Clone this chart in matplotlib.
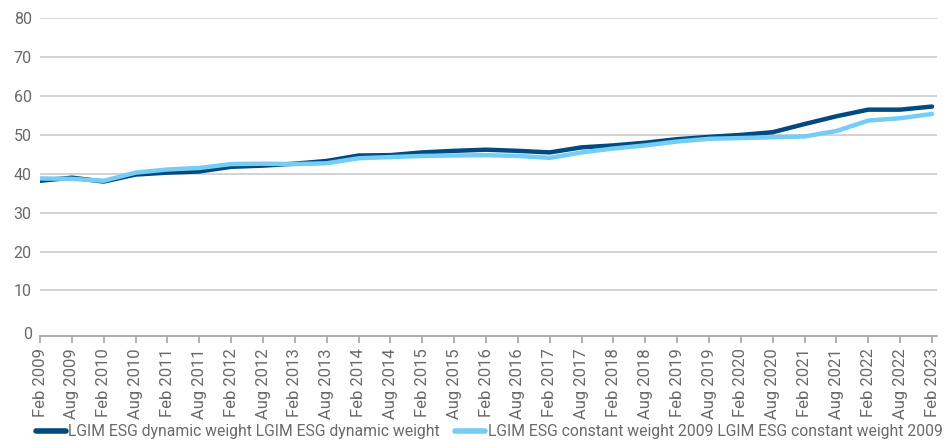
import matplotlib
matplotlib.use("Agg")
import matplotlib.pyplot as plt
from matplotlib.transforms import ScaledTranslation

plt.rcParams['font.family'] = ['Roboto', 'DejaVu Sans']

labels = ["Feb 2009", "Aug 2009", "Feb 2010", "Aug 2010", "Feb 2011", "Aug 2011",
          "Feb 2012", "Aug 2012", "Feb 2013", "Aug 2013", "Feb 2014", "Aug 2014",
          "Feb 2015", "Aug 2015", "Feb 2016", "Aug 2016", "Feb 2017", "Aug 2017",
          "Feb 2018", "Aug 2018", "Feb 2019", "Aug 2019", "Feb 2020", "Aug 2020",
          "Feb 2021", "Aug 2021", "Feb 2022", "Aug 2022", "Feb 2023"]

dynamic = [38.2, 39.0, 38.0, 39.8, 40.3, 40.6, 41.8, 42.1, 42.6, 43.3, 44.7, 44.8,
           45.5, 45.9, 46.2, 45.9, 45.5, 46.8, 47.3, 48.0, 48.9, 49.5, 50.0, 50.7,
           52.8, 54.8, 56.5, 56.5, 57.3]
constant = [38.8, 38.7, 38.2, 40.3, 41.1, 41.5, 42.5, 42.6, 42.5, 42.7, 44.0, 44.3,
            44.6, 44.7, 44.8, 44.6, 44.1, 45.5, 46.5, 47.3, 48.3, 49.0, 49.2, 49.4,
            49.6, 51.0, 53.7, 54.3, 55.4]

series_names = ["LGIM ESG dynamic weight LGIM ESG dynamic weight",
                "LGIM ESG constant weight 2009 LGIM ESG constant weight 2009"]
dark = "#004a80"
light = "#75ccf4"
grey_text = "#6a6a6a"

fig = plt.figure(figsize=(9.48, 4.40), dpi=100)
ax = fig.add_axes([0.0422, 0.2375, 0.946, 0.7209])

x = list(range(len(labels)))
ax.plot(x, dynamic, color=dark, lw=3.2, solid_capstyle='round', label=series_names[0], zorder=3)
ax.plot(x, constant, color=light, lw=3.2, solid_capstyle='round', label=series_names[1], zorder=3)

ax.set_ylim(-1.6, 80)
ax.set_xlim(0, len(labels) - 1 + 0.15)
ax.set_yticks(range(0, 81, 10))
ax.set_xticks(x)
ax.set_xticklabels(labels, rotation=90)

ax.grid(axis='y', color='#d0d0d0', lw=1.3)
ax.yaxis.get_gridlines()[0].set_visible(False)
ax.set_axisbelow(True)
for s in ['top', 'right', 'left']:
    ax.spines[s].set_visible(False)
ax.spines['bottom'].set_color('#a6a6a6')
ax.spines['bottom'].set_linewidth(1.3)
ax.tick_params(axis='y', length=0, labelsize=11.5, labelcolor=grey_text, pad=6)
ax.tick_params(axis='x', length=5, color='#a6a6a6', width=1.2, labelsize=12,
               labelcolor=grey_text, pad=4)
# "0" label sits on the axis line
zero_lab = ax.get_yticklabels()[0]
zero_lab.set_transform(zero_lab.get_transform() + ScaledTranslation(0, -3 / 72, fig.dpi_scale_trans))

leg = fig.legend(loc='lower center', bbox_to_anchor=(0.516, -0.03), ncol=2, frameon=False,
                 handlelength=1.9, handletextpad=0.15, columnspacing=1.0,
                 prop={'size': 11.3})
for t in leg.get_texts():
    t.set_color(grey_text)
for h in leg.get_lines():
    h.set_linewidth(4)

fig.savefig("out.png", dpi=100)
